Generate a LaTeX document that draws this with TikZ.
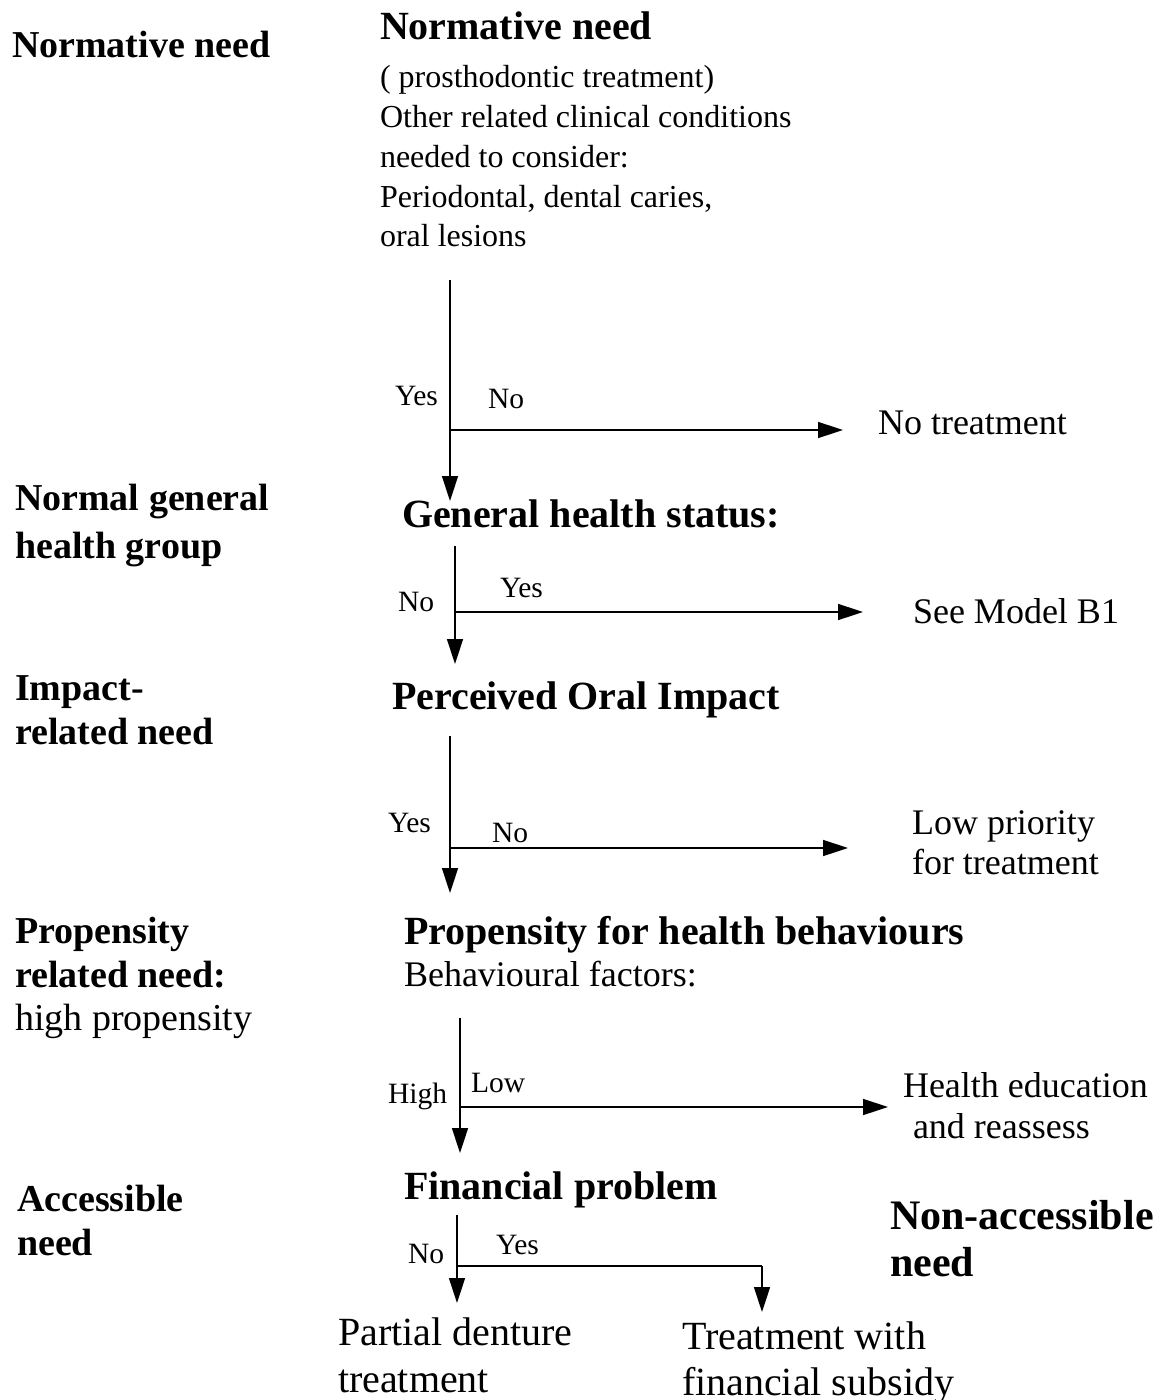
\documentclass[tikz,border=0pt]{standalone}
\usepackage{fontspec}
\setmainfont{Liberation Serif}
\usetikzlibrary{arrows.meta}
\begin{document}
\begin{tikzpicture}[x=1bp,y=-1bp,
  every node/.style={inner sep=0pt, outer sep=0pt, anchor=base west},
  side/.style={font=\fontsize{38bp}{43bp}\selectfont\bfseries},
  sidereg/.style={font=\fontsize{38bp}{43bp}\selectfont},
  head/.style={font=\fontsize{40bp}{46bp}\selectfont\bfseries},
  body/.style={font=\fontsize{32bp}{38bp}\selectfont},
  outc/.style={font=\fontsize{36bp}{42bp}\selectfont},
  big/.style={font=\fontsize{40bp}{46bp}\selectfont},
  lab/.style={font=\fontsize{29.5bp}{34bp}\selectfont},
  arr/.style={line width=1.5bp, -{Triangle[length=25bp,width=16bp]}},
  ln/.style={line width=1.5bp}]
\useasboundingbox (0,0) rectangle (1160,1400);

% left column: kinds of need
\node[side] (n1) at (12,58) {Normative need};
\node[side] (n2a) at (15,510) {Normal general};
\node[side] (n2b) at (15,558) {health group};
\node[side] (n3a) at (15,700) {Impact-};
\node[side] (n3b) at (15,744) {related need};
\node[side] (n4a) at (15,943) {Propensity};
\node[side] (n4b) at (15,987) {related need:};
\node[sidereg] (n4c) at (15,1030) {high propensity};
\node[side] (n5a) at (17,1211) {Accessible};
\node[side] (n5b) at (17,1255) {need};

% main column
\node[head] (h1) at (380,40) {Normative need};
\node[body] (h1a) at (380,88) {( prosthodontic treatment)};
\node[body] (h1b) at (380,128) {Other related clinical conditions};
\node[body] (h1c) at (380,168) {needed to consider:};
\node[body] (h1d) at (380,208) {Periodontal, dental caries,};
\node[body] (h1e) at (380,247) {oral lesions};

\node[head] (h2) at (402,527) {General health status:};
\node[head] (h3) at (392,709) {Perceived Oral Impact};
\node[head] (h4) at (404,944) {Propensity for health behaviours};
\node[outc] (h4a) at (404,986) {Behavioural factors:};
\node[head] (h5) at (404,1199) {Financial problem};

% outcomes
\node[outc] (o1) at (878,434) {No treatment};
\node[outc] (o2) at (913,623) {See Model B1};
\node[outc] (o3a) at (912,834) {Low priority};
\node[outc] (o3b) at (912,874) {for treatment};
\node[outc] (o4a) at (903,1097) {Health education};
\node[outc] (o4b) at (913,1138) {and reassess};
\node[font=\fontsize{42bp}{48bp}\selectfont\bfseries] (na1) at (890,1229) {Non-accessible};
\node[font=\fontsize{42bp}{48bp}\selectfont\bfseries] (na2) at (890,1276) {need};
\node[big] (p1a) at (338,1345) {Partial denture};
\node[big] (p1b) at (338,1392) {treatment};
\node[big] (p2a) at (682,1349) {Treatment with};
\node[big] (p2b) at (682,1395) {financial subsidy};

% decision 1
\coordinate (a1) at (450,280);
\coordinate (b1) at (450,430);
\coordinate (c1) at (450,501);
\coordinate (d1) at (843,430);
\draw[arr] (a1) -- (c1);
\draw[arr] (b1) -- (d1);
\node[lab] (y1) at (395,405) {Yes};
\node[lab] (x1) at (488,408) {No};

% decision 2
\coordinate (a2) at (455,546);
\coordinate (b2) at (455,612);
\coordinate (c2) at (455,664);
\coordinate (d2) at (863,612);
\draw[arr] (a2) -- (c2);
\draw[arr] (b2) -- (d2);
\node[lab] (x2) at (398,611) {No};
\node[lab] (y2) at (500,597) {Yes};

% decision 3
\coordinate (a3) at (450,736);
\coordinate (b3) at (450,848);
\coordinate (c3) at (450,893);
\coordinate (d3) at (848,848);
\draw[arr] (a3) -- (c3);
\draw[arr] (b3) -- (d3);
\node[lab] (y3) at (388,832) {Yes};
\node[lab] (x3) at (492,842) {No};

% decision 4
\coordinate (a4) at (460,1018);
\coordinate (b4) at (460,1107);
\coordinate (c4) at (460,1153);
\coordinate (d4) at (888,1107);
\draw[arr] (a4) -- (c4);
\draw[arr] (b4) -- (d4);
\node[lab] (y4) at (388,1103) {High};
\node[lab] (x4) at (471,1092) {Low};

% decision 5
\coordinate (a5) at (457,1215);
\coordinate (b5) at (457,1266);
\coordinate (c5) at (457,1303);
\coordinate (d5) at (762,1266);
\coordinate (e5) at (762,1312);
\draw[arr] (a5) -- (c5);
\draw[ln] (b5) -- (d5);
\draw[arr] (d5) -- (e5);
\node[lab] (x5) at (408,1263) {No};
\node[lab] (y5) at (496,1254) {Yes};
\end{tikzpicture}
\end{document}
